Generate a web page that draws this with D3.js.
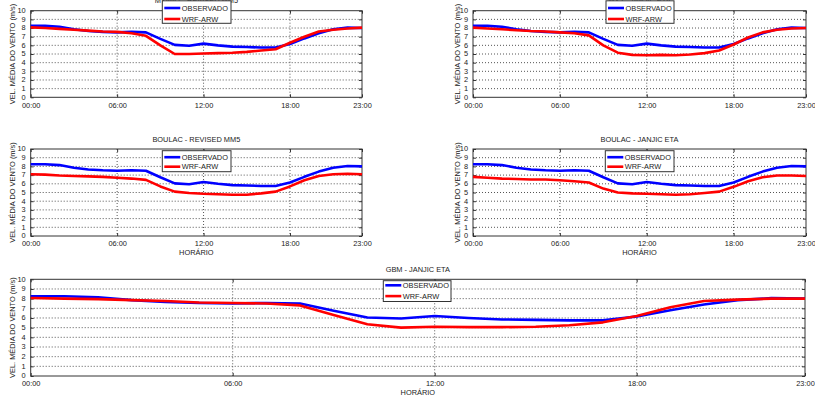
<!DOCTYPE html>
<html><head><meta charset="utf-8">
<script src="https://cdn.jsdelivr.net/npm/d3@7"></script>
<style>
body{margin:0;background:#fff}
svg{display:block}
text{font-family:"Liberation Sans",Arial,sans-serif;fill:#222}
</style>
</head><body>
<svg id="c" width="815" height="402"></svg>
<script>
// ---------- data ----------
const hours = [0,1,2,3,4,5,6,7,8,9,10,11,12,13,14,15,16,17,18,19,20,21,22,23];
const xTickValues = [0,6,12,18,23];
const xTickLabels = ["00:00","06:00","12:00","18:00","23:00"];
const yTickValues = [0,1,2,3,4,5,6,7,8,9,10];
const seriesNames = ["OBSERVADO","WRF-ARW"];
const panelTitles = ["MYNN2 - REVISED MM5","MYJ - JANJIC ETA","BOULAC - REVISED MM5","BOULAC - JANJIC ETA","GBM - JANJIC ETA"];
const yAxisLabel = "VEL. MÉDIA DO VENTO (m/s)";
const xAxisLabel = "HORÁRIO";

const observado = [8.25,8.25,8.15,7.85,7.65,7.55,7.5,7.55,7.5,6.75,6.05,5.95,6.2,6.0,5.85,5.8,5.75,5.75,6.15,6.8,7.4,7.85,8.05,8.0];
const wrfRevisedMM5 = [8.08,8.0,7.9,7.8,7.7,7.6,7.55,7.4,7.1,6.0,5.0,5.0,5.05,5.1,5.15,5.25,5.4,5.55,6.3,7.0,7.6,7.8,7.95,8.05];
const wrfMyjJanjic = [8.05,7.95,7.85,7.75,7.65,7.6,7.5,7.4,7.15,6.0,5.15,4.9,4.85,4.9,4.85,4.95,5.1,5.4,6.1,6.9,7.5,7.8,7.95,8.0];
const wrfBoulacRevised = [7.1,7.05,6.95,6.9,6.85,6.8,6.7,6.6,6.45,5.7,5.1,4.95,4.85,4.8,4.75,4.75,4.9,5.1,5.7,6.4,6.9,7.1,7.15,7.1];
const wrfBoulacJanjic = [6.8,6.7,6.6,6.55,6.5,6.5,6.4,6.3,6.15,5.45,5.0,4.9,4.85,4.8,4.75,4.8,4.95,5.1,5.65,6.3,6.75,6.95,6.95,6.9];
const wrfGbmJanjic = [8.07,8.0,7.95,7.85,7.75,7.6,7.55,7.5,7.3,6.3,5.35,5.0,5.1,5.05,5.05,5.1,5.25,5.55,6.2,7.1,7.75,7.9,8.0,8.0];
const modelSeries = [wrfRevisedMM5,wrfMyjJanjic,wrfBoulacRevised,wrfBoulacJanjic,wrfGbmJanjic];

// ---------- layout ----------
const layout = [
  {x0:30.7,x1:362,y0:10.7,y1:97.3,lg:{x:162.3,y:0.8,w:68.7,h:22.5,a:7.2,b:18.2},ylx:12,xlab:false},
  {x0:473,x1:806,y0:10.7,y1:97.3,lg:{x:606,y:0.8,w:68,h:22.5,a:7.2,b:18.2},ylx:457,xlab:false},
  {x0:30.7,x1:362,y0:149,y1:236,lg:{x:162.3,y:150.7,w:68.7,h:21,a:6.5,b:16},ylx:12,xlab:true},
  {x0:473,x1:806,y0:149,y1:236,lg:{x:605.3,y:150.7,w:68.7,h:21,a:6.5,b:16},ylx:457,xlab:true},
  {x0:30.7,x1:805,y0:279.3,y1:376,lg:{x:383.3,y:280.7,w:67.7,h:20.8,a:4.6,b:15.4},ylx:12,xlab:true}
];
const colors = ["#0000ff","#ff0000"];
const fs = 7.4;

const svg = d3.select("#c");

layout.forEach((L,i)=>{
  const g = svg.append("g");
  const x = d3.scaleLinear().domain([0,23]).range([L.x0,L.x1]);
  const y = d3.scaleLinear().domain([0,10]).range([L.y1,L.y0]);

  // grid
  g.append("g").selectAll("line").data(yTickValues.filter(v=>v>0&&v<10)).join("line")
    .attr("x1",L.x0).attr("x2",L.x1).attr("y1",d=>y(d)).attr("y2",d=>y(d))
    .attr("stroke","#555").attr("stroke-width",1).attr("stroke-dasharray","1,2");
  g.append("g").selectAll("line").data(xTickValues.filter(v=>v>0&&v<23)).join("line")
    .attr("x1",d=>x(d)).attr("x2",d=>x(d)).attr("y1",L.y0).attr("y2",L.y1)
    .attr("stroke","#555").attr("stroke-width",1).attr("stroke-dasharray","1,2");

  // axes (ticks inward)
  const ax = d3.axisBottom(x).tickValues(xTickValues).tickFormat((d,k)=>xTickLabels[k]).tickSizeInner(-3).tickSizeOuter(0).tickPadding(5.2);
  const gx = g.append("g").attr("transform",`translate(0,${L.y1})`).call(ax);
  const ay = d3.axisLeft(y).tickValues(yTickValues).tickSizeInner(-3).tickSizeOuter(0).tickPadding(5);
  const gy = g.append("g").attr("transform",`translate(${L.x0},0)`).call(ay);
  gy.selectAll("text").attr("dy","0.25em");
  const ayr = d3.axisRight(y).tickValues(yTickValues).tickSizeInner(-3).tickSizeOuter(0).tickFormat("");
  const gyr = g.append("g").attr("transform",`translate(${L.x1},0)`).call(ayr);
  const axt = d3.axisTop(x).tickValues(xTickValues).tickSizeInner(-3).tickSizeOuter(0).tickFormat("");
  const gxt = g.append("g").attr("transform",`translate(0,${L.y0})`).call(axt);
  [gx,gy,gyr,gxt].forEach(a=>{
    a.select(".domain").remove();
    a.selectAll("line").attr("stroke","#333");
    a.selectAll("text").attr("font-size",fs).attr("fill","#222").style("font-family","Liberation Sans, Arial, sans-serif");
  });

  // frame
  g.append("rect").attr("x",L.x0).attr("y",L.y0).attr("width",L.x1-L.x0).attr("height",L.y1-L.y0)
    .attr("fill","none").attr("stroke","#333").attr("stroke-width",1);

  // lines
  const line = d3.line().x((d,k)=>x(hours[k])).y(d=>y(d));
  [observado,modelSeries[i]].forEach((s,k)=>{
    g.append("path").datum(s).attr("d",line).attr("fill","none")
      .attr("stroke",colors[k]).attr("stroke-width",2.6).attr("stroke-linejoin","round");
  });

  // title
  g.append("text").attr("x",(L.x0+L.x1)/2).attr("y",L.y0-7.5).attr("text-anchor","middle")
    .attr("font-size",fs).text(panelTitles[i]);
  // y label
  g.append("text").attr("transform",`translate(${L.ylx+2.5},${(L.y0+L.y1)/2}) rotate(-90)`)
    .attr("text-anchor","middle").attr("font-size",fs).text(yAxisLabel);
  // x label
  if(L.xlab){
    g.append("text").attr("x",(L.x0+L.x1)/2).attr("y",L.y1+19.2).attr("text-anchor","middle")
      .attr("font-size",fs).text(xAxisLabel);
  }
  // legend
  const lg = g.append("g");
  lg.append("rect").attr("x",L.lg.x).attr("y",L.lg.y).attr("width",L.lg.w).attr("height",L.lg.h)
    .attr("fill","#fff").attr("stroke","#333").attr("stroke-width",1);
  seriesNames.forEach((n,k)=>{
    const yy = L.lg.y + (k===0?L.lg.a:L.lg.b);
    lg.append("line").attr("x1",L.lg.x+2).attr("x2",L.lg.x+18).attr("y1",yy).attr("y2",yy)
      .attr("stroke",colors[k]).attr("stroke-width",2.6);
    lg.append("text").attr("x",L.lg.x+19.5).attr("y",yy+2.7).attr("font-size",fs).text(n);
  });
});
</script>
</body></html>
